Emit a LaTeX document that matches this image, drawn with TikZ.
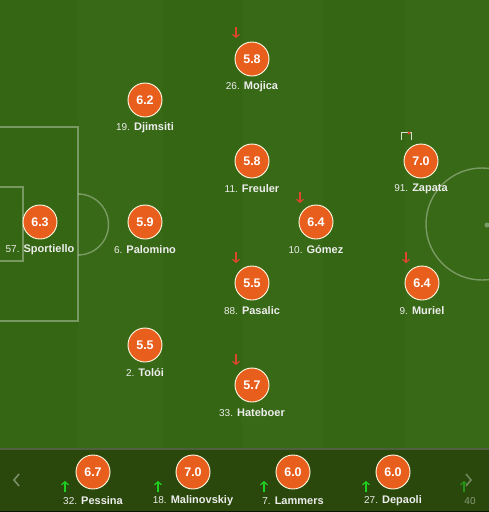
\documentclass[tikz,border=0pt]{standalone}
\usepackage{fontspec}
\setmainfont{Liberation Sans}
\usetikzlibrary{arrows.meta}
\definecolor{stA}{HTML}{356614}
\definecolor{stB}{HTML}{386917}
\definecolor{barcol}{HTML}{2A480B}
\definecolor{sepcol}{HTML}{4F5F3F}
\definecolor{rate}{HTML}{E85E1D}
\definecolor{redarr}{HTML}{E0452E}
\definecolor{greenarr}{HTML}{20D020}
\definecolor{labcol}{HTML}{EDEDED}
\newcommand{\plname}[2]{{\fontsize{10}{12}\selectfont #1} {\bfseries #2}}
\tikzset{
  rating/.style={circle, fill=rate, draw=white!90!yellow, line width=0.9pt, minimum size=34pt, inner sep=0pt, text=white, font=\fontsize{12.5}{14}\selectfont\bfseries},
  plabel/.style={inner sep=0pt, text=labcol, font=\fontsize{11}{13}\selectfont},
  fieldline/.style={draw=white, draw opacity=0.33, line width=1.4pt},
  downarr/.style={draw=redarr, line width=1.1pt, -{Straight Barb[length=3pt,width=7pt]}},
  uparr/.style={draw=greenarr, line width=1.2pt, -{Straight Barb[length=3pt,width=7pt]}},
}
\begin{document}
\begin{tikzpicture}[x=1pt,y=-1pt]
\useasboundingbox (0,0) rectangle (489,512);
% stripes
\fill[stA] (0,0) rectangle (78,449);
\fill[stB] (78,0) rectangle (162,449);
\fill[stA] (162,0) rectangle (242,449);
\fill[stB] (242,0) rectangle (323,449);
\fill[stA] (323,0) rectangle (405,449);
\fill[stB] (405,0) rectangle (489,449);
% field lines
\begin{scope}
\clip (0,0) rectangle (489,449);
\draw[fieldline] (-5,127) rectangle (78,321);
\draw[fieldline] (-5,187) rectangle (23,261);
\begin{scope}
\clip (78,0) rectangle (200,449);
\draw[fieldline] (78,224.5) circle[radius=30.5];
\end{scope}
\draw[fieldline] (482,224) circle[radius=56];
\fill[white, opacity=0.33] (487,225) circle[radius=2.5];
\end{scope}
% bottom bar
\fill[barcol] (0,449) rectangle (489,512);
\draw[sepcol, line width=1.5pt] (0,449) -- (489,449);
\draw[black!70!barcol, line width=1pt] (0,511.5) -- (489,511.5);

% players
\node[rating] (mojica) at (252,59) {5.8};
\node[plabel] (mojicaL) at (252,87) {\plname{26.}{Mojica}};
\draw[downarr] (236,27) -- (236,38);

\node[rating] (djimsiti) at (145,100) {6.2};
\node[plabel] (djimsitiL) at (145,128) {\plname{19.}{Djimsiti}};

\node[rating] (freuler) at (252,161) {5.8};
\node[plabel] (freulerL) at (252,189) {\plname{11.}{Freuler}};

\node[rating] (zapata) at (421,161) {7.0};
\node[plabel] (zapataL) at (421,189) {\plname{91.}{Zapata}};
\draw[white!80!stB, line width=1pt] (401,140) -- (401,132) -- (411,132) -- (411,140);
\fill[redarr] (409,133) circle[radius=1.6];

\node[rating] (sportiello) at (40,222) {6.3};
\node[plabel] (sportielloL) at (40,250) {\plname{57.}{Sportiello}};

\node[rating] (palomino) at (145,222) {5.9};
\node[plabel] (palominoL) at (145,250) {\plname{6.}{Palomino}};

\node[rating] (gomez) at (316,222) {6.4};
\node[plabel] (gomezL) at (316,250) {\plname{10.}{Gómez}};
\draw[downarr] (300,192) -- (300,203);

\node[rating] (pasalic) at (252,283) {5.5};
\node[plabel] (pasalicL) at (252,311) {\plname{88.}{Pasalic}};
\draw[downarr] (236,252) -- (236,263);

\node[rating] (muriel) at (422,283) {6.4};
\node[plabel] (murielL) at (422,311) {\plname{9.}{Muriel}};
\draw[downarr] (406,252) -- (406,263);

\node[rating] (toloi) at (145,345) {5.5};
\node[plabel] (toloiL) at (145,373) {\plname{2.}{Tolói}};

\node[rating] (hateboer) at (252,385) {5.7};
\node[plabel] (hateboerL) at (252,413) {\plname{33.}{Hateboer}};
\draw[downarr] (236,354) -- (236,365);

% substitutes
\node[rating] (pessina) at (93,472) {6.7};
\node[plabel] (pessinaL) at (93,501) {\plname{32.}{Pessina}};
\draw[uparr] (65,492) -- (65,481);

\node[rating] (malinovskiy) at (193,472) {7.0};
\node[plabel] (malinovskiyL) at (193,501) {\plname{18.}{Malinovskiy}};
\draw[uparr] (158,492) -- (158,481);

\node[rating] (lammers) at (293,472) {6.0};
\node[plabel] (lammersL) at (293,501) {\plname{7.}{Lammers}};
\draw[uparr] (264,492) -- (264,481);

\node[rating] (depaoli) at (393,472) {6.0};
\node[plabel] (depaoliL) at (393,501) {\plname{27.}{Depaoli}};
\draw[uparr] (366,492) -- (366,481);

\draw[uparr, draw=greenarr!55!barcol] (464,492) -- (464,481);
\node[plabel, text=white!45!barcol] (nextL) at (470,501) {\fontsize{10}{12}\selectfont 40};

% scroll chevrons
\draw[white!40!barcol, line width=1.5pt] (19,474) -- (14,480) -- (19,486);
\draw[white!35!barcol, line width=1.5pt] (466,474) -- (471,480) -- (466,486);
\end{tikzpicture}
\end{document}
